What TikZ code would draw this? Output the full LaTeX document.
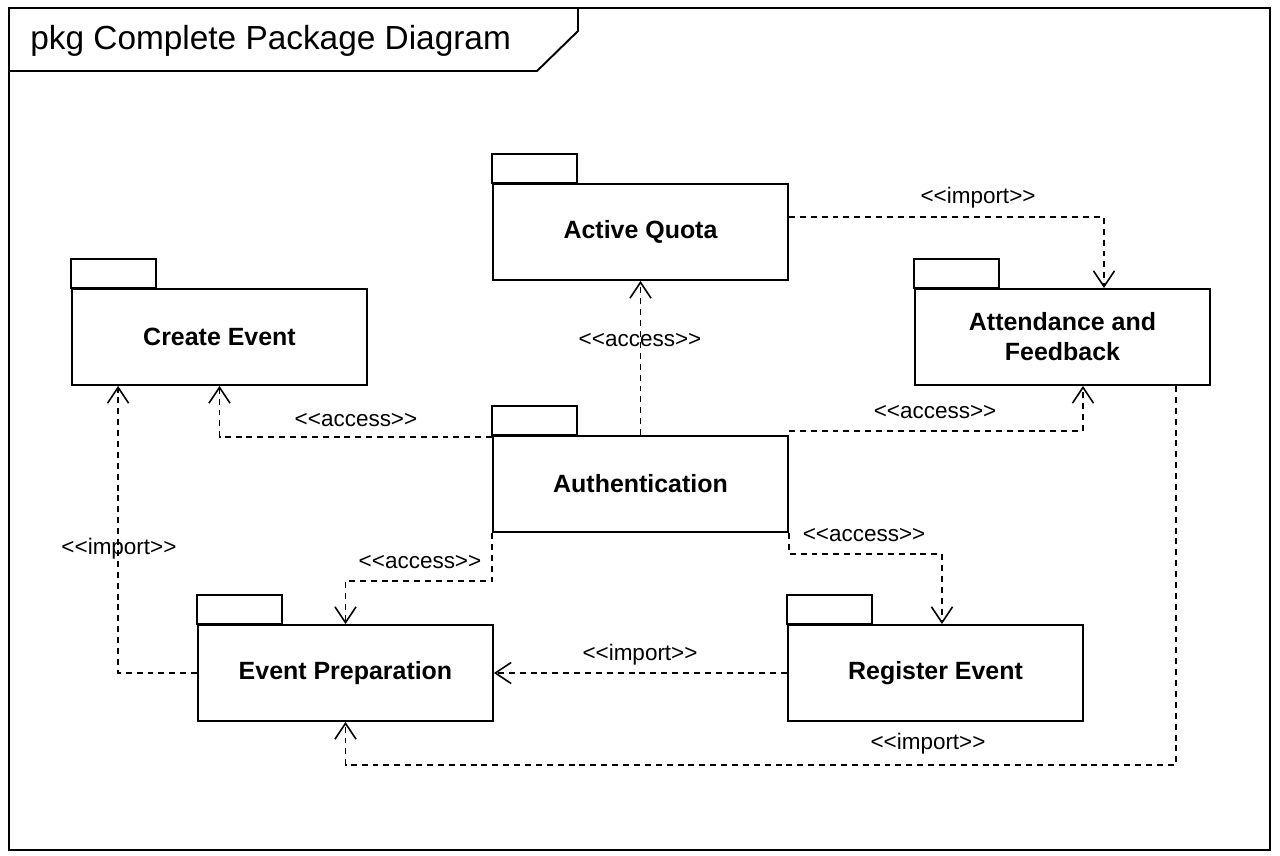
\documentclass[tikz,border=0pt]{standalone}
\usepackage{fontspec}
\setmainfont{Liberation Sans}
\usetikzlibrary{arrows.meta,calc}
\newcommand{\stereo}[1]{{<}{<}#1{>}{>}}
\begin{document}
\begin{tikzpicture}[x=0.02cm,y=-0.02cm,
  pkgbody/.style={draw,line width=1.1pt,rectangle,minimum width=5.9cm,minimum height=1.92cm,inner sep=0pt,
    font=\fontsize{14.2pt}{17pt}\selectfont\bfseries,align=center},
  pkgtab/.style={draw,line width=1.1pt},
  dep/.style={draw,line width=0.9pt,dash pattern=on 3.4pt off 2.8pt,-{Straight Barb[length=9pt,width=12pt,line width=0.9pt]}},
  lbl/.style={font=\fontsize{12.8pt}{15pt}\selectfont,inner sep=1pt},
  frameline/.style={draw,line width=1.1pt}]
\useasboundingbox (0,0) rectangle (1280,855);
\fill[white] (0,0) rectangle (1280,855);
% frame
\draw[frameline] (9,8) rectangle (1270,850);
\draw[frameline] (9,71) -- (537,71) -- (578,31) -- (578,8);
\node[anchor=west,font=\fontsize{19pt}{23pt}\selectfont,inner sep=0pt] (title) at (30,41) {pkg Complete Package Diagram};
% packages
\node[pkgbody] (aq) at (640.5,232) {Active Quota};
\node[pkgbody] (ce) at (219.5,337) {Create Event};
\node[pkgbody] (att) at (1062.5,337) {Attendance and\\Feedback};
\node[pkgbody] (auth) at (640.5,484) {Authentication};
\node[pkgbody] (ep) at (345.5,673) {Event Preparation};
\node[pkgbody] (re) at (935.5,673) {Register Event};
\foreach \p in {aq,ce,att,auth,ep,re}{
  \draw[pkgtab] (\p.north west) rectangle ++(85,-29);
}
% connectors
\draw[dep] ($(aq.east)+(0,-15)$) -| ($(att.north)+(41.5,0)$);
\draw[dep] (auth.north) -- (aq.south);
\draw[dep] ($(auth.north west)+(0,2)$) -| (ce.south);
\draw[dep] ($(auth.north east)+(0,-4)$) -| ($(att.south)+(20.5,0)$);
\draw[dep] (auth.south west) -- ++(0,48) -| (ep.north);
\draw[dep] (auth.south east) -- ++(0,21) -| ($(re.north)+(6.5,0)$);
\draw[dep] (re.west) -- (ep.east);
\draw[dep] (ep.west) -| ($(ce.south west)+(47,0)$);
\draw[dep] ($(att.south east)+(-35,0)$) -- ++(0,379) -| (ep.south);
% labels
\node[lbl] (l1) at (978,198) {\stereo{import}};
\node[lbl] (l2) at (640,340) {\stereo{access}};
\node[lbl] (l3) at (356,420) {\stereo{access}};
\node[lbl] (l4) at (935,412) {\stereo{access}};
\node[lbl] (l5) at (420,562) {\stereo{access}};
\node[lbl] (l6) at (864,535) {\stereo{access}};
\node[lbl] (l7) at (640,655) {\stereo{import}};
\node[lbl] (l8) at (119,549) {\stereo{import}};
\node[lbl] (l9) at (928,744) {\stereo{import}};
\end{tikzpicture}
\end{document}
